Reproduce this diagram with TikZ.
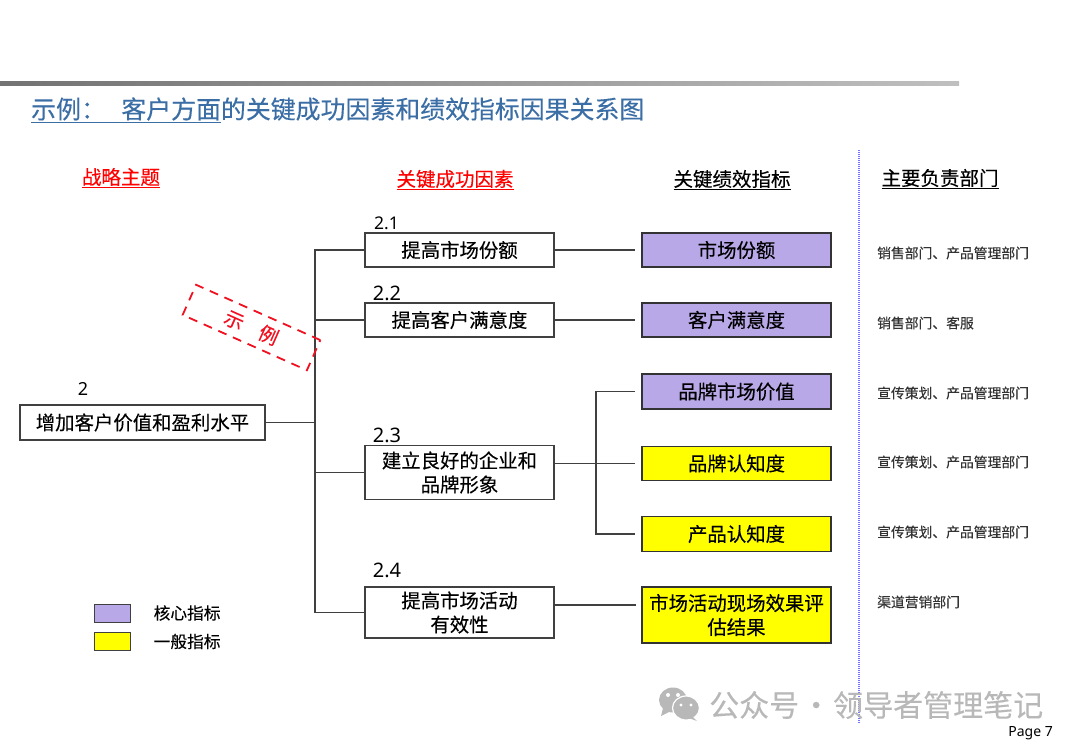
\documentclass[tikz,border=0pt]{standalone}
\usepackage{fontspec}
\setmainfont{Noto Sans CJK SC}[FakeBold=0.25]
\newfontfamily\latinfont{Noto Sans}
\usetikzlibrary{positioning,calc}
\definecolor{core}{HTML}{B9A8E8}
\definecolor{normal}{HTML}{FFFF00}
\definecolor{titleblue}{HTML}{3A6EA5}
\definecolor{linegrey}{HTML}{404040}
\definecolor{stampred}{HTML}{F01020}
\definecolor{markgrey}{HTML}{B8B8B8}
\tikzset{
  plainbox/.style={draw=linegrey, line width=1.2pt, fill=white, minimum width=189pt, inner sep=0pt, align=center, font=\fontsize{19.4}{24}\selectfont},
  kpibox/.style={plainbox, draw=black!80, line width=1.4pt},
  link/.style={draw=linegrey, line width=1.2pt},
  toKpi/.style={link, shorten >=6pt},
  header/.style={font=\fontsize{19.5}{23}\selectfont, inner sep=0pt},
  dept/.style={anchor=west, inner sep=0pt, text=black!80, font=\fontsize{13.8}{16}\selectfont},
  num/.style={inner sep=0pt, font=\latinfont\fontsize{18}{22}\selectfont},
  swatch/.style={draw=linegrey, line width=1pt, minimum width=36pt, minimum height=18pt, inner sep=0pt},
}
\begin{document}
\begin{tikzpicture}[x=1pt, y=-1pt]
  \useasboundingbox (0,0) rectangle (1080,748);
  \shade[left color=black!55, right color=black!25] (0,81) rectangle (959,85);
  \node[anchor=west, inner sep=0pt, text=titleblue, font=\fontsize{24.9}{30}\selectfont] (title) at (31,110)
    {\underline{示例：\hspace{15.5pt}客户方面}的关键成功因素和绩效指标因果关系图};
  % column heads
  \node[header, text=red] (headTheme) at (121,178) {\underline{战略主题}};
  \node[header, text=red] (headFactor) at (455,180) {\underline{关键成功因素}};
  \node[header] (headKpi) at (732,180) {\underline{关键绩效指标}};
  \node[header] (headDept) at (940,179) {\underline{主要负责部门}};
  \draw[draw=blue!55, line width=1.1pt, dash pattern=on 1pt off 1pt] (859,150) coordinate (sepTop) -- (859,724) coordinate (sepEnd);
  % theme, factors, indicators
  \node[plainbox, minimum width=245pt, minimum height=35pt] (theme) at (142.5,422.5) {\raisebox{-1pt}{增加客户价值和盈利水平}};
  \foreach \n/\y/\h/\t in {1/250/34/提高市场份额, 2/320/34/提高客户满意度, 3/472.5/54/{建立良好的企业和\\品牌形象}, 4/612.5/51/{提高市场活动\\有效性}}
    \node[plainbox, minimum height=\h pt] (fac\n) at (459.5,\y) {\t};
  \foreach \n/\y/\h/\c/\t in {1/250/34/core/市场份额, 2/320/34/core/客户满意度, 3/391.5/35/core/品牌市场价值, 4/463.5/34/normal/品牌认知度, 5/534/35/normal/产品认知度, 6/615/56/normal/{市场活动现场效果评\\估结果}}
    \node[kpibox, fill=\c, minimum height=\h pt] (kpi\n) at (736.5,\y) {\t};
  \node[num] (numTheme) at (83,389) {2};
  \node[num, font=\latinfont\fontsize{17.5}{21}\selectfont] (num1) at (386.5,223) {2.1};
  \foreach \n/\y in {2/293, 3/435, 4/570}
    \node[num, font=\latinfont\fontsize{20}{24}\selectfont] (num\n) at (387,\y) {2.\n};
  % tree
  \coordinate (trunk) at (315,422.5);
  \draw[link] (theme) -- (trunk);
  \foreach \n in {1,...,4} \draw[link] (fac\n.west) -| (trunk);
  \coordinate (fork) at (596,463.5);
  \draw[toKpi] (fac1) -- (kpi1);
  \draw[toKpi] (fac2) -- (kpi2);
  \draw[toKpi] (fac3.east |- kpi4) -- (kpi4);
  \draw[toKpi] (fork) |- (kpi3);
  \draw[toKpi] (fork) |- (kpi5);
  \coordinate (out4) at (554,605);
  \coordinate (in6) at (642,605);
  \draw[toKpi] (out4) -- (in6);
  % responsible departments
  \foreach \n/\y/\t in {1/253/销售部门、产品管理部门, 2/323/销售部门、客服, 3/393/宣传策划、产品管理部门, 4/462/宣传策划、产品管理部门, 5/532/宣传策划、产品管理部门, 6/602/渠道营销部门}
    \node[dept] (dept\n) at (877,\y) {\t};
  % legend
  \node[swatch, fill=core] (keyCore) at (112,613) {};
  \node[swatch, fill=normal] (keyNormal) at (112,641.5) {};
  \node[right=23pt of keyCore, inner sep=0pt, font=\fontsize{16.7}{20}\selectfont] (txtCore) {核心指标};
  \node[right=23pt of keyNormal, inner sep=0pt, font=\fontsize{16.7}{20}\selectfont] (txtNormal) {一般指标};
  % stamp
  \node[draw=stampred, line width=1.8pt, dash pattern=on 9pt off 7pt, rotate=-24, minimum width=136pt, minimum height=33pt, inner sep=0pt, text=stampred, font=\fontsize{19.5}{23}\selectfont] (stamp) at (251.5,327.5) {示\hspace{18pt}例};
  % footer
  \fill[markgrey] (673,700) ellipse (14pt and 12.5pt);
  \fill[markgrey] (663,708) -- (661,716) -- (671,711) -- cycle;
  \fill[markgrey, draw=white, line width=1.2pt] (686,708) ellipse (13.5pt and 12pt);
  \fill[markgrey] (692,716) -- (697,721) -- (686,717) -- cycle;
  \fill[white] (668,695) circle (2pt) (678,695) circle (2pt) (681,705) circle (1.7pt) (691,705) circle (1.7pt);
  \node[anchor=west, inner sep=0pt, text=markgrey, font=\fontsize{30}{36}\selectfont] (mark) at (709,705) {公众号\hspace{2pt}·\hspace{2pt}领导者管理笔记};
  \node[anchor=east, inner sep=0pt, font=\latinfont\fontsize{14}{17}\selectfont] (page) at (1053,733) {Page 7};
\end{tikzpicture}
\end{document}
